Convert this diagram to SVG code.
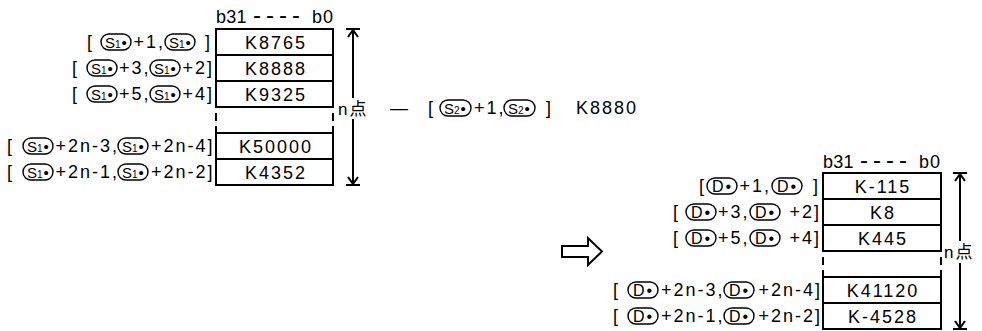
<svg xmlns="http://www.w3.org/2000/svg" width="982" height="331" viewBox="0 0 982 331">
<style>
.t{font-family:"Liberation Sans",Arial,sans-serif;font-size:18px;letter-spacing:2px;fill:#000}
.v{text-anchor:middle}
.h{letter-spacing:0.3px}
.hd{font-size:24px;letter-spacing:5px}
.h0{letter-spacing:1px}
.pt{font-family:"Liberation Sans",Arial,sans-serif;font-size:15px;fill:#000}
.dt{font-family:"Liberation Sans",Arial,sans-serif;font-size:16px;fill:#000}
.sb{font-size:10px}
.pill{fill:none;stroke:#000;stroke-width:1.4}
.box{fill:none;stroke:#000;stroke-width:2}
.dash{stroke:#000;stroke-width:2;stroke-dasharray:8 5}
.ln{stroke:#000;stroke-width:2;fill:none}
.cjk{font-family:"Liberation Sans","Noto Sans CJK JP",sans-serif;font-size:17px;letter-spacing:2px;fill:#000}
</style>
<rect width="982" height="331" fill="#fff"/>

<g id="src-registers">
<text class="t h" x="216" y="23">b31<tspan class="hd" x="253">----</tspan><tspan class="h0" x="312">b0</tspan></text>
<rect class="box" x="216" y="29" width="117" height="78"/>
<line class="ln" x1="216" y1="55" x2="333" y2="55"/>
<line class="ln" x1="216" y1="81" x2="333" y2="81"/>
<line class="dash" x1="216" y1="113" x2="216" y2="133"/>
<line class="dash" x1="333" y1="113" x2="333" y2="133"/>
<rect class="box" x="216" y="133" width="117" height="52"/>
<line class="ln" x1="216" y1="159" x2="333" y2="159"/>
<text class="t v" x="276" y="48.5">K8765</text>
<text class="t v" x="276" y="74.5">K8888</text>
<text class="t v" x="276" y="100.5">K9325</text>
<text class="t v" x="276" y="152.5">K50000</text>
<text class="t v" x="276" y="178.5">K4352</text>
</g>

<g id="src-labels">
<text class="t" x="87" y="48">[</text>
<rect class="pill" x="101" y="34" width="30" height="16" rx="8"/>
<text class="pt" x="105" y="47.5">S<tspan class="sb">1</tspan><tspan dx="1">•</tspan></text>
<text class="t" x="133.5" y="48">+1,</text>
<rect class="pill" x="165" y="34" width="30" height="16" rx="8"/>
<text class="pt" x="169" y="47.5">S<tspan class="sb">1</tspan><tspan dx="1">•</tspan></text>
<text class="t" x="205" y="48">]</text>

<text class="t" x="72" y="74">[</text>
<rect class="pill" x="87" y="60" width="30" height="16" rx="8"/>
<text class="pt" x="91" y="73.5">S<tspan class="sb">1</tspan><tspan dx="1">•</tspan></text>
<text class="t" x="119" y="74">+3,</text>
<rect class="pill" x="150" y="60" width="30" height="16" rx="8"/>
<text class="pt" x="154" y="73.5">S<tspan class="sb">1</tspan><tspan dx="1">•</tspan></text>
<text class="t" x="182.5" y="74">+2]</text>

<text class="t" x="72" y="100">[</text>
<rect class="pill" x="87" y="86" width="30" height="16" rx="8"/>
<text class="pt" x="91" y="99.5">S<tspan class="sb">1</tspan><tspan dx="1">•</tspan></text>
<text class="t" x="119" y="100">+5,</text>
<rect class="pill" x="150" y="86" width="30" height="16" rx="8"/>
<text class="pt" x="154" y="99.5">S<tspan class="sb">1</tspan><tspan dx="1">•</tspan></text>
<text class="t" x="182.5" y="100">+4]</text>

<text class="t" x="7" y="152">[</text>
<rect class="pill" x="23" y="138" width="30" height="16" rx="8"/>
<text class="pt" x="27" y="151.5">S<tspan class="sb">1</tspan><tspan dx="1">•</tspan></text>
<text class="t" x="55.5" y="152">+2n-3,</text>
<rect class="pill" x="118" y="138" width="30" height="16" rx="8"/>
<text class="pt" x="122" y="151.5">S<tspan class="sb">1</tspan><tspan dx="1">•</tspan></text>
<text class="t" x="151" y="152">+2n-4]</text>

<text class="t" x="7" y="178">[</text>
<rect class="pill" x="23" y="164" width="30" height="16" rx="8"/>
<text class="pt" x="27" y="177.5">S<tspan class="sb">1</tspan><tspan dx="1">•</tspan></text>
<text class="t" x="55.5" y="178">+2n-1,</text>
<rect class="pill" x="118" y="164" width="30" height="16" rx="8"/>
<text class="pt" x="122" y="177.5">S<tspan class="sb">1</tspan><tspan dx="1">•</tspan></text>
<text class="t" x="151" y="178">+2n-2]</text>
</g>

<g id="s2-value">
<text class="t" x="390" y="114">—</text>
<text class="t" x="428" y="114">[</text>
<rect class="pill" x="440" y="100" width="31" height="16" rx="8"/>
<text class="pt" x="444" y="113.5">S<tspan class="sb">2</tspan><tspan dx="1">•</tspan></text>
<text class="t" x="474" y="114">+1,</text>
<rect class="pill" x="504" y="100" width="31" height="16" rx="8"/>
<text class="pt" x="508" y="113.5">S<tspan class="sb">2</tspan><tspan dx="1">•</tspan></text>
<text class="t" x="546" y="114">]</text>
<text class="t" x="576" y="114">K8880</text>
</g>

<g id="dst-registers">
<text class="t h" x="823" y="168">b31<tspan class="hd" x="860">----</tspan><tspan class="h0" x="919">b0</tspan></text>
<rect class="box" x="823" y="173" width="118" height="78"/>
<line class="ln" x1="823" y1="199" x2="941" y2="199"/>
<line class="ln" x1="823" y1="225" x2="941" y2="225"/>
<line class="dash" x1="823" y1="257" x2="823" y2="277"/>
<line class="dash" x1="941" y1="257" x2="941" y2="277"/>
<rect class="box" x="823" y="277" width="118" height="52"/>
<line class="ln" x1="823" y1="303" x2="941" y2="303"/>
<text class="t v" x="883" y="192.5">K-115</text>
<text class="t v" x="883" y="218.5">K8</text>
<text class="t v" x="883" y="244.5">K445</text>
<text class="t v" x="883" y="296.5">K41120</text>
<text class="t v" x="883" y="322.5">K-4528</text>
</g>

<g id="dst-labels">
<text class="t" x="699" y="192">[</text>
<rect class="pill" x="707" y="178" width="30" height="16" rx="8"/>
<text class="dt" x="712" y="191.5">D<tspan dx="2">•</tspan></text>
<text class="t" x="739.5" y="192">+1,</text>
<rect class="pill" x="772" y="178" width="30" height="16" rx="8"/>
<text class="dt" x="777" y="191.5">D<tspan dx="2">•</tspan></text>
<text class="t" x="813" y="192">]</text>

<text class="t" x="673" y="218">[</text>
<rect class="pill" x="686" y="204" width="30" height="16" rx="8"/>
<text class="dt" x="691" y="217.5">D<tspan dx="2">•</tspan></text>
<text class="t" x="718" y="218">+3,</text>
<rect class="pill" x="750" y="204" width="30" height="16" rx="8"/>
<text class="dt" x="755" y="217.5">D<tspan dx="2">•</tspan></text>
<text class="t" x="789.5" y="218">+2]</text>

<text class="t" x="673" y="244">[</text>
<rect class="pill" x="686" y="230" width="30" height="16" rx="8"/>
<text class="dt" x="691" y="243.5">D<tspan dx="2">•</tspan></text>
<text class="t" x="718" y="244">+5,</text>
<rect class="pill" x="750" y="230" width="30" height="16" rx="8"/>
<text class="dt" x="755" y="243.5">D<tspan dx="2">•</tspan></text>
<text class="t" x="789.5" y="244">+4]</text>

<text class="t" x="613" y="296">[</text>
<rect class="pill" x="628" y="282" width="30" height="16" rx="8"/>
<text class="dt" x="633" y="295.5">D<tspan dx="2">•</tspan></text>
<text class="t" x="661" y="296">+2n-3,</text>
<rect class="pill" x="724" y="282" width="30" height="16" rx="8"/>
<text class="dt" x="729" y="295.5">D<tspan dx="2">•</tspan></text>
<text class="t" x="758.5" y="296">+2n-4]</text>

<text class="t" x="613" y="322">[</text>
<rect class="pill" x="628" y="308" width="30" height="16" rx="8"/>
<text class="dt" x="633" y="321.5">D<tspan dx="2">•</tspan></text>
<text class="t" x="661" y="322">+2n-1,</text>
<rect class="pill" x="724" y="308" width="30" height="16" rx="8"/>
<text class="dt" x="729" y="321.5">D<tspan dx="2">•</tspan></text>
<text class="t" x="758.5" y="322">+2n-2]</text>
</g>

<g id="connectors">
<line class="ln" x1="346" y1="29" x2="360" y2="29"/>
<line class="ln" x1="353" y1="30" x2="353" y2="98"/>
<line class="ln" x1="353" y1="119" x2="353" y2="184"/>
<line class="ln" x1="346" y1="185" x2="360" y2="185"/>
<polyline class="ln" points="348,37 353,30 358,37"/>
<polyline class="ln" points="348,177 353,184 358,177"/>
<text class="cjk" x="338" y="115">n点</text>

<line class="ln" x1="953" y1="173" x2="967" y2="173"/>
<line class="ln" x1="960" y1="174" x2="960" y2="241"/>
<line class="ln" x1="960" y1="263" x2="960" y2="328"/>
<line class="ln" x1="953" y1="329" x2="967" y2="329"/>
<polyline class="ln" points="955,181 960,174 965,181"/>
<polyline class="ln" points="955,321 960,328 965,321"/>
<text class="cjk" x="944" y="258">n点</text>

<path class="ln" d="M562,246 H588 V238 L602,251.5 L588,265 V257 H562 Z" fill="#fff" stroke-width="1.6"/>
</g>
</svg>
